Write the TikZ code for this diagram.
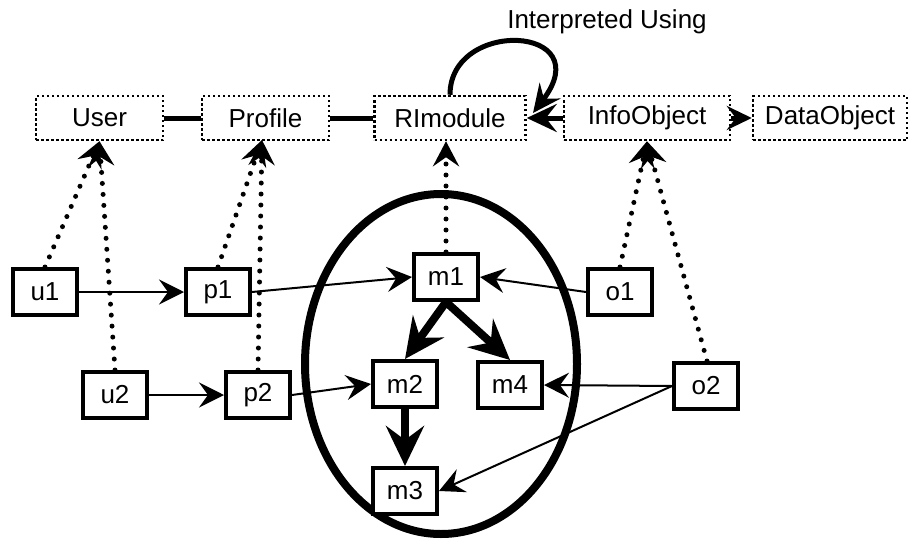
\documentclass[tikz,border=0pt]{standalone}
\usepackage{fontspec}
\setmainfont{Liberation Sans}
\usetikzlibrary{arrows.meta,shapes.geometric}
\begin{document}
\begin{tikzpicture}[x=1pt,y=-1pt,
  every node/.style={font=\fontsize{26}{30}\selectfont, inner sep=0pt},
  concept/.style={draw, line width=2.5pt, dash pattern=on 2.5pt off 2.5pt, minimum height=44pt},
  inst/.style={draw, line width=4pt, fill=white, minimum width=64pt, minimum height=46pt},
  thin/.style={line width=2pt, -{Stealth[length=25pt,width=25pt,inset=9pt]}},
  bold/.style={line width=8pt, -{Stealth[length=40pt,width=38pt,inset=14pt]}},
  link/.style={line width=5pt},
  dots/.style={line width=5pt, line cap=round, dash pattern=on 0pt off 11pt,
               -{Stealth[length=25pt,width=26pt,inset=9pt]}}]
\useasboundingbox (0,0) rectangle (910,543);

% module group
\draw[line width=8pt] (441,364) ellipse [x radius=136, y radius=170];

% concept level
\node[concept, minimum width=127pt] (User) at (99.5,118) {User};
\node[concept, minimum width=127pt] (Profile) at (265.5,118) {Profile};
\node[concept, minimum width=151pt] (RImodule) at (450,118) {RImodule};
\node[concept, minimum width=166pt] (InfoObject) at (647,118) {InfoObject};
\node[concept, minimum width=154pt] (DataObject) at (830,118) {DataObject};
\node (interp) at (607,22) {Interpreted Using};

% instance level
\node[inst] (u1) at (45,292) {u1};
\node[inst] (p1) at (218,292) {p1};
\node[inst] (u2) at (115,395) {u2};
\node[inst] (p2) at (258,395) {p2};
\node[inst] (m1) at (446,277) {m1};
\node[inst] (m2) at (405,384) {m2};
\node[inst] (m4) at (510,385) {m4};
\node[inst] (m3) at (405,491) {m3};
\node[inst] (o1) at (620,292) {o1};
\node[inst] (o2) at (706,386) {o2};

% concept links
\draw[link] (User.east) -- (Profile.west);
\draw[link] (Profile.east) -- (RImodule.west);
\draw[link, -{Stealth[length=30pt,width=28pt,inset=11pt]}] (InfoObject.west) -- (RImodule.east);
\draw[link, -{Stealth[length=25pt,width=24pt,inset=9pt]}] (InfoObject.east) -- (DataObject.west);
\coordinate (loopend) at (533,113);
\draw[link, -{Stealth[length=28pt,width=26pt,inset=10pt]}]
  (RImodule.north) .. controls (450,18) and (600,25) .. (loopend);

% instance-of links
\draw[dots] (u1.north) -- (User.south);
\draw[dots] (u2.north) -- (User.south);
\coordinate (ptip) at (262,140);
\draw[dots] (p1.north) -- (ptip);
\draw[dots] (p2.north) -- (ptip);
\draw[dots] (m1.north) -- (m1.north |- RImodule.south);
\draw[dots] (o1.north) -- (InfoObject.south);
\draw[dots] ([xshift=1pt]o2.north) -- (InfoObject.south);

% instance relations
\draw[thin] (u1.east) -- (p1.west);
\draw[thin] (u2.east) -- (p2.west);
\draw[thin] (p1.east) -- (m1.west);
\draw[thin] (p2.east) -- (m2.west);
\draw[thin] (o1.west) -- (m1.east);
\draw[thin] (o2.west) -- (m4.east);
\draw[thin] (o2.west) -- (m3.east);

% module structure
\draw[bold] (m1.south) -- (m2.north);
\draw[bold] (m1.south) -- (m4.north);
\draw[bold] (m2.south) -- (m3.north);
\end{tikzpicture}
\end{document}
